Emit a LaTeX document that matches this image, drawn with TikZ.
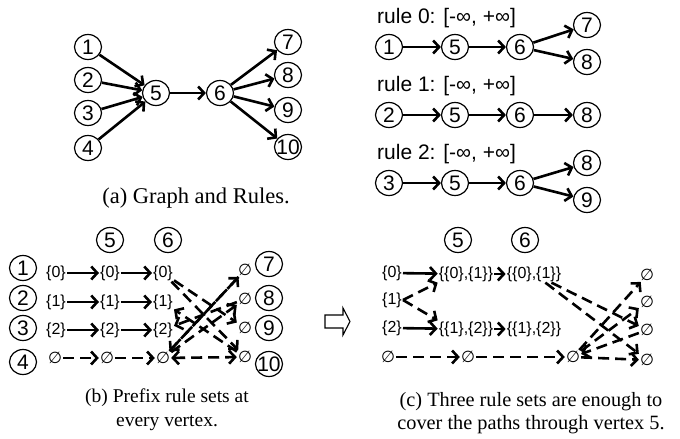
\documentclass[tikz,border=0pt]{standalone}
\usepackage{fontspec}
\setmainfont{Liberation Serif}
\newfontfamily\arl{Liberation Sans}
\newfontfamily\dvs{DejaVu Sans}
\usetikzlibrary{arrows.meta,shapes.geometric}
\newcommand{\es}{{\dvs\fontsize{16}{16}\selectfont ∅}}
\newcommand{\ten}{\makebox[0pt]{10}}
\tikzset{
  circ/.style={ellipse,draw,line width=1.2pt,inner sep=0pt,minimum width=27pt,minimum height=25pt,font=\arl\fontsize{21}{21}\selectfont},
  setn/.style={inner sep=1pt,font=\arl\fontsize{16}{16}\selectfont},
  lbl/.style={inner sep=0pt,font=\arl\fontsize{21}{21}\selectfont},
  captxt/.style={inner sep=0pt,font=\fontsize{22.5}{22.5}\selectfont},
  captb/.style={inner sep=0pt,font=\fontsize{19.5}{19.5}\selectfont},
  captc/.style={inner sep=0pt,font=\fontsize{20.3}{20.3}\selectfont},
  arr/.style={line width=2.6pt,-{Straight Barb[length=6pt,width=13pt,line width=2.6pt]}},
  tarr/.style={line width=1.6pt,-{Straight Barb[length=6pt,width=13pt,line width=2.6pt]}},
  darr/.style={arr,dash pattern=on 11pt off 6pt},
}
\begin{document}
\begin{tikzpicture}[x=1pt,y=-1pt]
\useasboundingbox (0,0) rectangle (680,439);
% ---------- (a)
\node[circ] (a1) at (88,47) {1};
\node[circ] (a2) at (88,80) {2};
\node[circ] (a3) at (88,113) {3};
\node[circ] (a4) at (88,148) {4};
\node[circ] (a5) at (156,93) {5};
\node[circ] (a6) at (220,93) {6};
\node[circ] (a7) at (288,42) {7};
\node[circ] (a8) at (288,75) {8};
\node[circ] (a9) at (288,110) {9};
\node[circ] (a10) at (288,147) {\ten};
\foreach \s in {1,2,3,4} \draw[arr] (a\s) -- (a5);
\draw[arr] (a5) -- (a6);
\foreach \t in {7,8,9,10} \draw[arr] (a6) -- (a\t);
\node[captxt] (capa) at (196,198) {(a) Graph and Rules.};
% ---------- rules
\node[lbl,anchor=west] (l0) at (377,18) {rule 0: [-∞, +∞]};
\node[circ] (r01) at (389,47) {1};
\node[circ] (r05) at (455,47) {5};
\node[circ] (r06) at (520,47) {6};
\node[circ] (r07) at (587,25) {7};
\node[circ] (r08) at (587,62) {8};
\draw[arr] (r01) -- (r05);
\draw[tarr] (r05) -- (r06);
\draw[arr] (r06) -- (r07);
\draw[arr] (r06) -- (r08);
\node[lbl,anchor=west] (l1) at (377,86) {rule 1: [-∞, +∞]};
\node[circ] (r12) at (389,115) {2};
\node[circ] (r15) at (455,115) {5};
\node[circ] (r16) at (520,115) {6};
\node[circ] (r18) at (587,115) {8};
\draw[tarr] (r12) -- (r15);
\draw[tarr] (r15) -- (r16);
\draw[arr] (r16) -- (r18);
\node[lbl,anchor=west] (l2) at (377,154) {rule 2: [-∞, +∞]};
\node[circ] (r23) at (389,183) {3};
\node[circ] (r25) at (455,183) {5};
\node[circ] (r26) at (520,183) {6};
\node[circ] (r28) at (587,163) {8};
\node[circ] (r29) at (587,200) {9};
\draw[arr] (r23) -- (r25);
\draw[tarr] (r25) -- (r26);
\draw[arr] (r26) -- (r28);
\draw[arr] (r26) -- (r29);
% ---------- (b)
\node[circ] (b5c) at (110,240) {5};
\node[circ] (b6c) at (168,240) {6};
\node[circ] (b1) at (23,268) {1};
\node[circ] (b2) at (23,298) {2};
\node[circ] (b3) at (23,328) {3};
\node[circ] (b4) at (23,362) {4};
\node[circ] (b7) at (269,264) {7};
\node[circ] (b8) at (269,298) {8};
\node[circ] (b9) at (269,328) {9};
\node[circ] (b10) at (269,364) {\ten};
\node[setn] (bs1) at (56,273) {\{0\}};
\node[setn] (b5s1) at (110,273) {\{0\}};
\node[setn] (b6s1) at (163,273) {\{0\}};
\node[setn] (bs2) at (56,302) {\{1\}};
\node[setn] (b5s2) at (110,302) {\{1\}};
\node[setn] (b6s2) at (163,302) {\{1\}};
\node[setn] (bs3) at (56,330) {\{2\}};
\node[setn] (b5s3) at (110,330) {\{2\}};
\node[setn] (b6s3) at (163,330) {\{2\}};
\node[setn] (bs4) at (55,358) {\es};
\node[setn] (b5s4) at (107,358) {\es};
\node[setn] (b6s4) at (163,358) {\es};
\node[setn] (be7) at (245,270) {\es};
\node[setn] (be8) at (245,299) {\es};
\node[setn] (be9) at (245,328) {\es};
\node[setn] (be10) at (245,357) {\es};
\foreach \r in {1,2,3} {
  \draw[arr] (bs\r) -- (b5s\r);
  \draw[arr] (b5s\r) -- (b6s\r);
}
\draw[darr] (bs4) -- (b5s4);
\draw[darr] (b5s4) -- (b6s4);
\draw[darr] (b6s1) -- (be9);
\draw[darr] (b6s1) -- (be10);
\draw[darr] (b6s4) -- (be7);
\draw[darr] (b6s4) -- (be8);
\draw[darr] (be10) -- (b6s2);
\draw[darr] (be8) -- (b6s3);
\draw[darr,{Straight Barb[length=6pt,width=13pt,line width=2.6pt]}-{Straight Barb[length=6pt,width=13pt,line width=2.6pt]}] (b6s4) -- (be10);
\draw[darr] (be7) -- (b6s4);
\node[captb] (capb1) at (167,398) {(b) Prefix rule sets at};
\node[captb] (capb2) at (167,423) {every vertex.};
% hollow arrow
\draw[line width=1.1pt] (325,315) -- (343,315) -- (343,308) -- (350,321.5) -- (343,335) -- (343,328) -- (325,328) -- cycle;
% ---------- (c)
\node[circ] (c5c) at (458,240) {5};
\node[circ] (c6c) at (525,240) {6};
\node[setn] (cs1) at (392,273) {\{0\}};
\node[setn] (cs2) at (392,300) {\{1\}};
\node[setn] (cs3) at (392,328) {\{2\}};
\node[setn] (cs4) at (388,357) {\es};
\node[setn] (c5s1) at (466,274) {\{\{0\},\{1\}\}};
\node[setn] (c6s1) at (534,274) {\{\{0\},\{1\}\}};
\node[setn] (c5s2) at (466,329) {\{\{1\},\{2\}\}};
\node[setn] (c6s2) at (534,329) {\{\{1\},\{2\}\}};
\node[setn] (c5s4) at (468,357) {\es};
\node[setn] (c6s4) at (573,357) {\es};
\node[setn] (ce1) at (647,275) {\es};
\node[setn] (ce2) at (647,302) {\es};
\node[setn] (ce3) at (647,330) {\es};
\node[setn] (ce4) at (647,360) {\es};
\draw[arr] (cs1) -- (c5s1);
\draw[darr] (cs2.east) -- (c5s1.south west);
\draw[darr] (cs2.east) -- (c5s2.north west);
\draw[arr] (cs3) -- (c5s2);
\draw[tarr] (c5s1) -- (c6s1);
\draw[arr] (c5s2) -- (c6s2);
\draw[darr] (cs4) -- (c5s4);
\draw[darr] (c5s4) -- (c6s4);
\draw[darr] (c6s1) -- (ce4);
\draw[darr] (c6s1) -- (ce3);
\draw[darr] (c6s4) -- (ce1);
\draw[darr] (c6s4) -- (ce2);
\draw[darr] (ce3) -- (c6s4);
\draw[darr] (c6s4) -- (ce4);
\node[captc] (capc1) at (531,402) {(c) Three rule sets are enough to};
\node[captc] (capc2) at (531,425) {cover the paths through vertex 5.};
\end{tikzpicture}
\end{document}
